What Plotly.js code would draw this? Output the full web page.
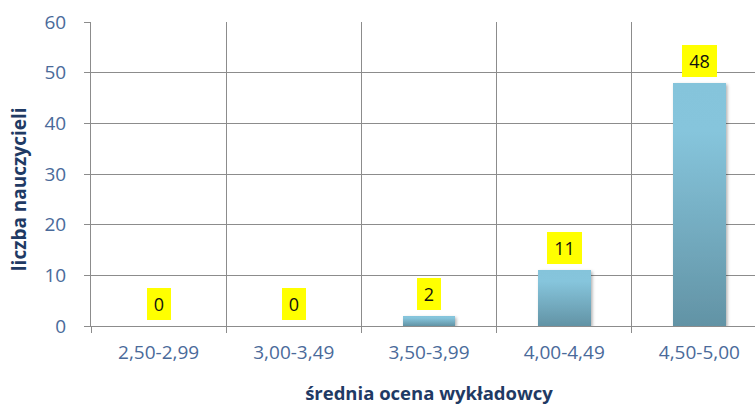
<!DOCTYPE html>
<html>
<head>
<meta charset="utf-8">
<script src="https://cdn.plot.ly/plotly-3.0.1.min.js"></script>
<style>
  html, body { margin: 0; padding: 0; overflow: hidden; background: #ffffff; }
  #chart { width: 780px; height: 405px; }
</style>
</head>
<body>
<div id="chart"></div>
<script>
const categories = ["2,50-2,99", "3,00-3,49", "3,50-3,99", "4,00-4,49", "4,50-5,00"];
const teacherCounts = [0, 0, 2, 11, 48];
const yTickValues = [0, 10, 20, 30, 40, 50, 60];
const xTitleText = "średnia ocena wykładowcy";
const yTitleText = "liczba nauczycieli";

const positions = categories.map((c, i) => i);
const boundaries = categories.map((c, i) => i - 0.5).concat([categories.length - 0.5]);

const tickFont = { family: "Open Sans, sans-serif", size: 19, color: "#4a6a9a" };
const titleFont = { family: "Open Sans, sans-serif", size: 18.5, color: "#1f3a64", weight: "bold" };
const gridCol = "#8c8c8c";

const bars = {
  type: "bar",
  x: positions,
  y: teacherCounts,
  width: 0.39,
  marker: { color: "#78b0c6", line: { width: 0 } },
  hoverinfo: "skip",
  showlegend: false
};
const gridHelper = {
  type: "scatter",
  mode: "markers",
  x: positions,
  y: teacherCounts,
  xaxis: "x2",
  marker: { opacity: 0, size: 1 },
  hoverinfo: "skip",
  showlegend: false
};

const annotations = teacherCounts.map((v, i) => ({
  x: positions[i],
  y: v,
  xref: "x",
  yref: "y",
  text: String(v),
  showarrow: false,
  yshift: 22,
  bgcolor: "#ffff00",
  borderpad: 4,
  borderwidth: 0,
  width: 5 + 11 * String(v).length,
  height: 24,
  font: { family: "Open Sans, sans-serif", size: 18, color: "#111111" }
}));
annotations.push({
  text: yTitleText,
  xref: "paper", yref: "paper",
  x: 0, y: 0.45,
  xanchor: "center", yanchor: "middle",
  xshift: -72,
  textangle: -90,
  showarrow: false,
  font: { family: "Open Sans, sans-serif", size: 19, color: "#1f3a64", weight: "bold" }
});

const layout = {
  width: 780,
  height: 405,
  margin: { l: 91, r: 13, t: 22, b: 79 },
  paper_bgcolor: "#ffffff",
  plot_bgcolor: "#ffffff",
  xaxis: {
    type: "linear",
    range: [-0.5, categories.length - 0.5],
    tickvals: positions,
    ticktext: categories,
    tickfont: tickFont,
    ticks: "",
    showgrid: false,
    zeroline: false,
    showline: true,
    linecolor: gridCol,
    linewidth: 1,
    ticklabelstandoff: 9,
    title: { text: xTitleText, font: titleFont, standoff: 23 }
  },
  xaxis2: {
    type: "linear",
    overlaying: "x",
    anchor: "y",
    side: "bottom",
    range: [-0.5, categories.length - 0.5],
    tickvals: boundaries,
    showticklabels: false,
    ticks: "outside",
    ticklen: 6,
    tickcolor: gridCol,
    showgrid: true,
    gridcolor: gridCol,
    gridwidth: 1,
    zeroline: false,
    showline: false
  },
  yaxis: {
    range: [0, 60],
    tickvals: yTickValues,
    tickfont: tickFont,
    ticks: "outside",
    ticklen: 6,
    tickcolor: gridCol,
    ticklabelstandoff: 14,
    showgrid: true,
    gridcolor: gridCol,
    gridwidth: 1,
    zeroline: false,
    showline: true,
    linecolor: gridCol,
    linewidth: 1
  },
  annotations: annotations,
  bargap: 0
};

Plotly.newPlot("chart", [bars, gridHelper], layout, { staticPlot: true, displayModeBar: false }).then(() => {
  const svg = document.querySelector("#chart .main-svg");
  const NS = "http://www.w3.org/2000/svg";
  let defs = svg.querySelector("defs");
  if (!defs) { defs = document.createElementNS(NS, "defs"); svg.insertBefore(defs, svg.firstChild); }
  const grad = document.createElementNS(NS, "linearGradient");
  grad.setAttribute("id", "barGrad");
  grad.setAttribute("x1", "0"); grad.setAttribute("y1", "0");
  grad.setAttribute("x2", "0"); grad.setAttribute("y2", "1");
  [["0", "#85c4db"], ["0.2", "#86c5dc"], ["1", "#6293a5"]].forEach(([o, c]) => {
    const s = document.createElementNS(NS, "stop");
    s.setAttribute("offset", o); s.setAttribute("stop-color", c);
    grad.appendChild(s);
  });
  defs.appendChild(grad);
  const filt = document.createElementNS(NS, "filter");
  filt.setAttribute("id", "barShadow");
  filt.setAttribute("x", "-20%"); filt.setAttribute("y", "-20%");
  filt.setAttribute("width", "150%"); filt.setAttribute("height", "150%");
  const ds = document.createElementNS(NS, "feDropShadow");
  ds.setAttribute("dx", "1.5"); ds.setAttribute("dy", "1.5");
  ds.setAttribute("stdDeviation", "1.5");
  ds.setAttribute("flood-color", "#000000"); ds.setAttribute("flood-opacity", "0.3");
  filt.appendChild(ds);
  defs.appendChild(filt);
  document.querySelectorAll("#chart .trace.bars .point path").forEach(p => {
    p.style.fill = "url(#barGrad)";
    p.style.filter = "url(#barShadow)";
  });
});
</script>
</body>
</html>
